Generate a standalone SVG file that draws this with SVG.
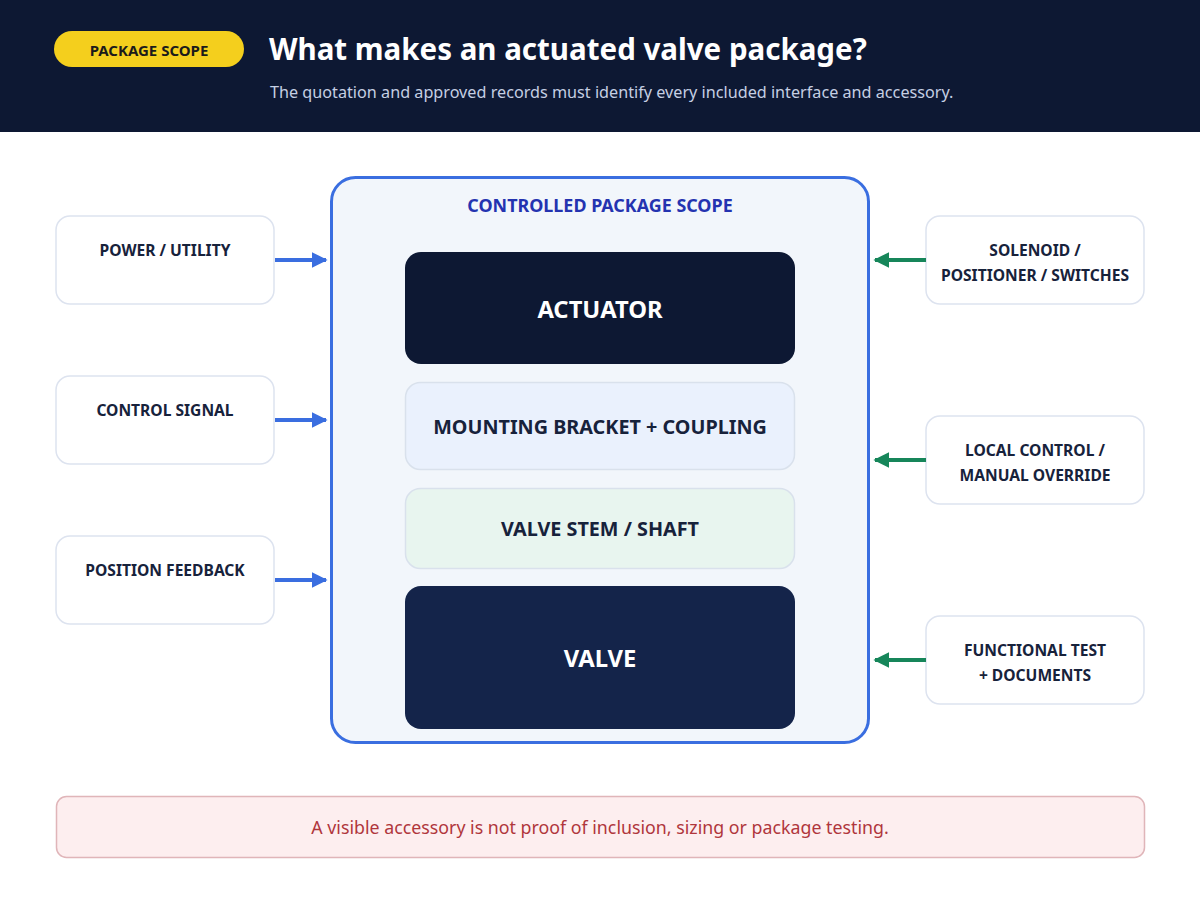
<svg xmlns="http://www.w3.org/2000/svg" width="1200" height="900" viewBox="0 0 1200 900">
<defs>
<marker id="ab" viewBox="0 0 10 10" refX="9" refY="5" markerWidth="4" markerHeight="4" orient="auto" markerUnits="strokeWidth"><path d="M0,0 L10,5 L0,10 z" fill="#3a6ee0"/></marker>
<marker id="ag" viewBox="0 0 10 10" refX="9" refY="5" markerWidth="4" markerHeight="4" orient="auto" markerUnits="strokeWidth"><path d="M0,0 L10,5 L0,10 z" fill="#16865a"/></marker>
<style>
text{font-family:"Noto Sans","Open Sans","DejaVu Sans",sans-serif}
.side{fill:#ffffff;stroke:#dde3ef;stroke-width:1.5}
.sl{font-size:15.6px;font-weight:700;fill:#17223b;text-anchor:middle}
.blue{stroke:#3a6ee0;stroke-width:4;fill:none}
.green{stroke:#16865a;stroke-width:4;fill:none}
.big{font-weight:700;text-anchor:middle}
</style>
</defs>
<rect x="0" y="0" width="1200" height="900" fill="#ffffff"/>
<g id="header">
<rect x="0" y="0" width="1200" height="132" fill="#0d1833"/>
<rect x="54" y="31" width="190" height="36" rx="18" fill="#f4cf1d"/>
<text x="149" y="55.5" font-size="15" font-weight="700" fill="#1b1b1b" text-anchor="middle">PACKAGE SCOPE</text>
<text x="269" y="60" font-size="29.5" font-weight="700" fill="#ffffff">What makes an actuated valve package?</text>
<text x="270" y="98" font-size="16.2" fill="#c5cfe3">The quotation and approved records must identify every included interface and accessory.</text>
</g>
<g id="scope">
<rect x="331.5" y="177.5" width="537" height="565" rx="24" fill="#f2f6fb" stroke="#3a6ee0" stroke-width="3"/>
<text x="600" y="212" font-size="17.9" font-weight="700" fill="#2433b0" text-anchor="middle">CONTROLLED PACKAGE SCOPE</text>
</g>
<g id="actuator">
<rect x="405" y="252" width="390" height="112" rx="16" fill="#0d1833"/>
<text x="600" y="317.5" class="big" font-size="23.8" fill="#ffffff">ACTUATOR</text>
</g>
<g id="mounting">
<rect x="405.5" y="382.5" width="389" height="87" rx="15" fill="#eaf1fd" stroke="#d9e1ec" stroke-width="1.5"/>
<text x="600" y="434" class="big" font-size="19.8" fill="#17223b">MOUNTING BRACKET + COUPLING</text>
</g>
<g id="stem">
<rect x="405.5" y="488.5" width="389" height="80" rx="15" fill="#e8f5ef" stroke="#d9e1ec" stroke-width="1.5"/>
<text x="600" y="536" class="big" font-size="19.8" fill="#17223b">VALVE STEM / SHAFT</text>
</g>
<g id="valve">
<rect x="405" y="586" width="390" height="143" rx="16" fill="#14244a"/>
<text x="600" y="666.5" class="big" font-size="23.8" fill="#ffffff">VALVE</text>
</g>
<g id="power"><rect class="side" x="56" y="216" width="218" height="88" rx="14"/><text class="sl" x="165" y="255.5">POWER / UTILITY</text></g>
<g id="control"><rect class="side" x="56" y="376" width="218" height="88" rx="14"/><text class="sl" x="165" y="415.5">CONTROL SIGNAL</text></g>
<g id="feedback"><rect class="side" x="56" y="536" width="218" height="88" rx="14"/><text class="sl" x="165" y="575.5">POSITION FEEDBACK</text></g>
<g id="solenoid"><rect class="side" x="926" y="216" width="218" height="88" rx="14"/><text class="sl" x="1035" y="255.5">SOLENOID /</text><text class="sl" x="1035" y="280.5">POSITIONER / SWITCHES</text></g>
<g id="local"><rect class="side" x="926" y="416" width="218" height="88" rx="14"/><text class="sl" x="1035" y="455.5">LOCAL CONTROL /</text><text class="sl" x="1035" y="480.5">MANUAL OVERRIDE</text></g>
<g id="test"><rect class="side" x="926" y="616" width="218" height="88" rx="14"/><text class="sl" x="1035" y="655.5">FUNCTIONAL TEST</text><text class="sl" x="1035" y="680.5">+ DOCUMENTS</text></g>
<g id="connectors">
<line class="blue" x1="275" y1="260" x2="326" y2="260" marker-end="url(#ab)"/>
<line class="blue" x1="275" y1="420" x2="326" y2="420" marker-end="url(#ab)"/>
<line class="blue" x1="275" y1="580" x2="326" y2="580" marker-end="url(#ab)"/>
<line class="green" x1="926" y1="260" x2="875" y2="260" marker-end="url(#ag)"/>
<line class="green" x1="926" y1="460" x2="875" y2="460" marker-end="url(#ag)"/>
<line class="green" x1="926" y1="660" x2="875" y2="660" marker-end="url(#ag)"/>
</g>
<g id="note">
<rect x="56.5" y="796.5" width="1088" height="61" rx="10" fill="#fdeeef" stroke="#e0b5b9" stroke-width="1.5"/>
<text x="600" y="834" font-size="17.8" fill="#b0363c" text-anchor="middle">A visible accessory is not proof of inclusion, sizing or package testing.</text>
</g>
</svg>
